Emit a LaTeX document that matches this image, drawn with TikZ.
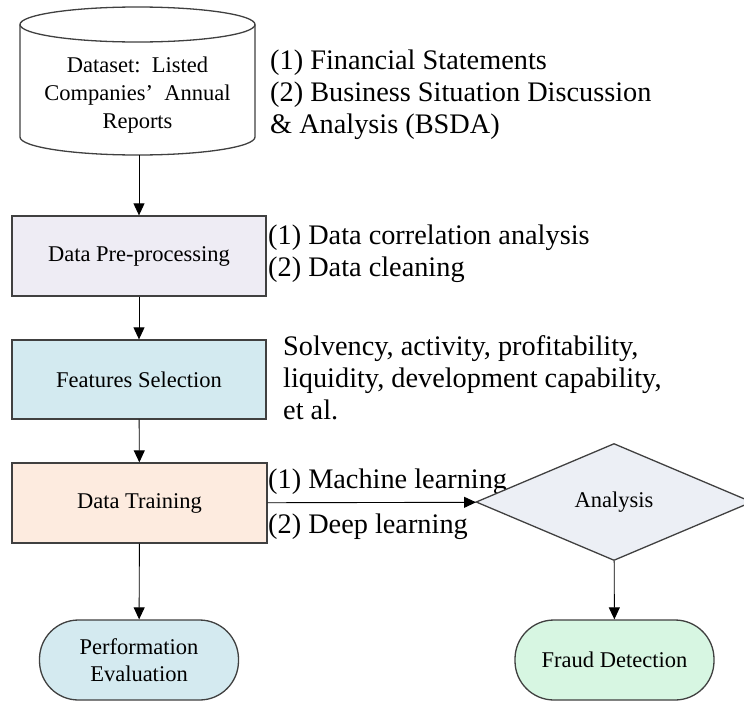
\documentclass[tikz,border=0pt]{standalone}
\usepackage{fontspec}
\setmainfont{Liberation Serif}
\usepackage{xcolor}
\usetikzlibrary{shapes.geometric,arrows.meta}

\definecolor{prepfill}{HTML}{EEECF4}
\definecolor{featfill}{HTML}{D3EAF0}
\definecolor{trainfill}{HTML}{FDEBDF}
\definecolor{analfill}{HTML}{ECEFF5}
\definecolor{perffill}{HTML}{D4EAF0}
\definecolor{fraudfill}{HTML}{D7F6E2}

\begin{document}
\begin{tikzpicture}[x=1pt, y=-1pt,
	box/.style={draw=black!75, line width=1.3pt, minimum width=254pt, minimum height=80pt, font=\fontsize{22.5}{28}\selectfont},
	endbox/.style={draw=black!75, line width=1.3pt, rounded corners=39pt, minimum width=199pt, minimum height=80pt, align=center, font=\fontsize{22.5}{27}\selectfont},
	note/.style={anchor=west, align=left, inner sep=0pt, font=\fontsize{28.3}{32}\selectfont},
	arr/.style={-{Triangle[length=12pt,width=11pt]}, line width=0.9pt}]
	\useasboundingbox (0,0) rectangle (744,702);
	% dataset cylinder
	\draw[black!75, line width=1.3pt, fill=white] (20,24.5) -- (20,137) arc (180:0:117.5 and 18) -- (255,24.5);
	\draw[black!75, line width=1.3pt, fill=white] (137.5,24.5) ellipse [x radius=117.5, y radius=17.5];
	\node[align=center, font=\fontsize{22.5}{28}\selectfont] (data) at (137.5,95) {Dataset:\enspace Listed\\Companies’\enspace Annual\\Reports};
	\coordinate (dataBot) at (139,155);
	\node[note] (dataNote) at (270,95) {(1) Financial Statements\\(2) Business Situation Discussion\\\& Analysis (BSDA)};
	% process boxes
	\node[box, fill=prepfill] (prep) at (139,256) {Data Pre-processing};
	\node[note] (prepNote) at (268,253.5) {(1) Data correlation analysis\\(2) Data cleaning};
	\node[box, fill=featfill, minimum height=79pt] (feat) at (139,379.5) {Features Selection};
	\node[note] (featNote) at (283,378) {Solvency, activity, profitability,\\liquidity, development capability,\\et al.};
	\node[box, fill=trainfill, minimum width=255pt] (train) at (139.5,503) {Data Training};
	\node[note] (trainUp) at (268,482) {(1) Machine learning};
	\node[note] (trainDown) at (268,527) {(2) Deep learning};
	\node[diamond, draw=black!75, line width=1.3pt, fill=analfill, minimum width=276pt, minimum height=117pt, inner sep=0pt, font=\fontsize{22.5}{27}\selectfont] (anal) at (614,502) {Analysis};
	\node[endbox, fill=perffill] (perf) at (139,660) {Performation\\Evaluation};
	\node[endbox, fill=fraudfill] (fraud) at (614.5,660) {Fraud Detection};
	% connectors
	\draw[arr] (dataBot) -- (prep);
	\draw[arr] (prep) -- (feat);
	\draw[arr] (feat) -- (train);
	\draw[arr] (train) -- (perf);
	\draw[arr] (train) -- (anal);
	\draw[arr] (anal) -- (fraud);
\end{tikzpicture}
\end{document}
